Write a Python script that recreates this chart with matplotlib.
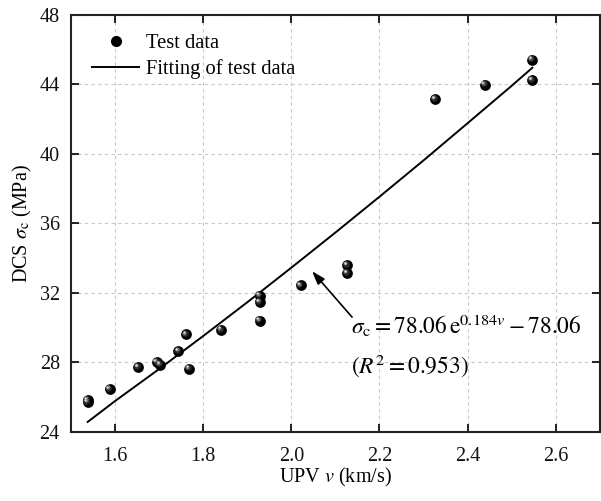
import numpy as np
import matplotlib
matplotlib.use("Agg")
import matplotlib.pyplot as plt
from matplotlib.lines import Line2D
from matplotlib.transforms import offset_copy

plt.rcParams["font.family"] = ["Liberation Serif", "DejaVu Serif"]
plt.rcParams["mathtext.fontset"] = "stix"

# measured test data: ultrasonic pulse velocity vs dynamic compressive strength
upv = [1.538, 1.538, 1.588, 1.653, 1.695, 1.702, 1.744, 1.761, 1.768, 1.841,
       1.928, 1.928, 1.928, 2.021, 2.127, 2.127, 2.327, 2.439, 2.547, 2.547]
dcs = [25.84, 25.71, 26.46, 27.72, 28.01, 27.87, 28.64, 29.60, 27.64, 29.87,
       31.84, 31.46, 30.39, 32.42, 33.59, 33.13, 43.14, 43.97, 45.40, 44.21]

# fitted curve as plotted
fit_v = [1.538, 1.60, 1.70, 1.80, 1.90, 2.00, 2.10, 2.20, 2.30, 2.40, 2.50, 2.547]
fit_dcs = [24.57, 25.77, 27.61, 29.51, 31.45, 33.44, 35.46, 37.52, 39.61, 41.75, 43.90, 44.94]

x_ticks = [1.6, 1.8, 2.0, 2.2, 2.4, 2.6]
y_ticks = [24, 28, 32, 36, 40, 44, 48]

fig = plt.figure(figsize=(6.01, 5.01), dpi=100)
ax = fig.add_axes([0.118, 0.138, 0.880, 0.833])

ax.plot(fit_v, fit_dcs, color="black", lw=1.4, zorder=3)

# shaded spheres: dark base + lighter offset layers for the highlight
ax.scatter(upv, dcs, s=60, color="black", zorder=4, linewidths=0)
for dx, dy, size, col in [(-0.9, 0.9, 22, "#2a2a2a"), (-1.4, 1.4, 8, "#7a7a7a"),
                          (-1.7, 1.7, 2.5, "#e0e0e0")]:
    tr = offset_copy(ax.transData, fig=fig, x=dx, y=dy, units="points")
    ax.scatter(upv, dcs, s=size, color=col, zorder=5, linewidths=0, transform=tr)

ax.set_xlim(1.5, 2.7)
ax.set_ylim(24, 48)
ax.set_xticks(x_ticks)
ax.set_yticks(y_ticks)
ax.set_xticklabels([f"{t:.1f}" for t in x_ticks])
ax.tick_params(direction="in", length=6, width=1.3, labelsize=14.5,
               top=True, right=True, pad=8, colors="#111111")
ax.tick_params(axis="x", pad=11)
ax.grid(True, color="#c8c8c8", linestyle=(0, (3, 3)), linewidth=0.8)
ax.set_axisbelow(True)
for sp in ax.spines.values():
    sp.set_linewidth(1.5)
    sp.set_color("#222222")

ax.set_xlabel(r"UPV $v$ (km/s)", fontsize=14.5, labelpad=0)
ax.set_ylabel(r"DCS $\sigma_{\mathrm{c}}$ (MPa)", fontsize=14.5, labelpad=4)

ax.annotate("", xy=(2.043, 33.36), xytext=(2.142, 30.48),
            arrowprops=dict(arrowstyle="-|>,head_length=0.8,head_width=0.27",
                            color="black", lw=1.2), zorder=6)
ax.text(2.136, 29.64, r"$\sigma_{\mathrm{c}} = 78.06\,\mathrm{e}^{0.184v} - 78.06$",
        fontsize=16.8, ha="left", va="baseline")
ax.text(2.136, 27.39, r"$(R^2 = 0.953)$", fontsize=16.8, ha="left", va="baseline")

handles = [Line2D([], [], ls="none", marker="o", color="black", markersize=7),
           Line2D([], [], color="black", lw=1.4)]
ax.legend(handles, ["Test data", "Fitting of test data"], loc="upper left",
          bbox_to_anchor=(0.04, 0.955), borderaxespad=0, borderpad=0,
          frameon=False, fontsize=14.8, handlelength=2.3, handletextpad=0.3,
          labelspacing=0.3)

fig.savefig("out.png", dpi=100)
